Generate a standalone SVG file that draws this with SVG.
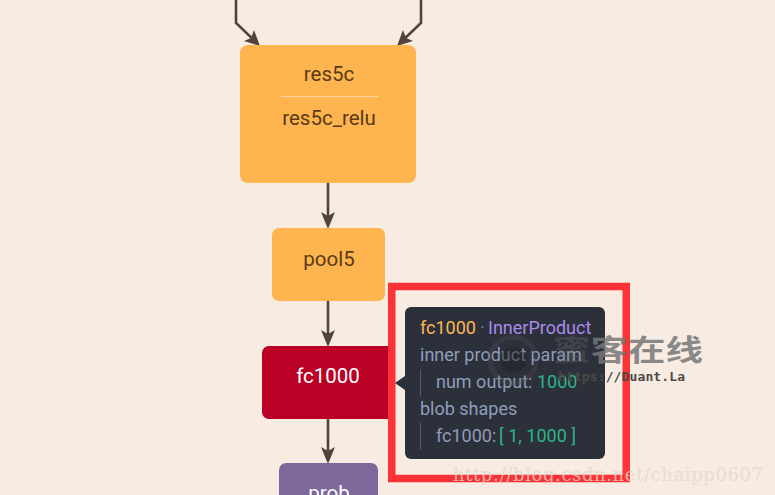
<svg xmlns="http://www.w3.org/2000/svg" width="775" height="495" viewBox="0 0 775 495">
<style>
.n{font-family:Roboto,"Liberation Sans",sans-serif;font-size:20.500px;text-anchor:middle;fill:#5a3a16}
.t{font-family:Roboto,"Liberation Sans",sans-serif;font-size:18px}
.g{fill:#8f9db8}.v{fill:#2bb58a}
.e{fill:none;stroke:#50443c;stroke-width:2.600}
.h{fill:#50443c}
</style>
<rect width="775" height="495" fill="#f7ebe2"/>
<g id="connectors">
<path class="e" d="M236 0V23L256 42"/>
<path class="h" d="M260 46L244 41L251 38L254 30Z"/>
<path class="e" d="M421 0V23L401 42"/>
<path class="h" d="M397 46L413 41L406 38L403 30Z"/>
<path class="e" d="M328 183V225"/>
<path class="h" d="M328 229L321 212L328 216L335 212Z"/>
<path class="e" d="M328 300V343"/>
<path class="h" d="M328 347L321 330L328 334L335 330Z"/>
<path class="e" d="M328 418V460"/>
<path class="h" d="M328 464L321 447L328 451L335 447Z"/>
</g>
<g id="res5c">
<rect x="240" y="45" width="176" height="138" rx="8" fill="#ffb54f"/>
<text class="n" x="329" y="81">res5c</text>
<path d="M281 96.500H378" stroke="#ffd79c" stroke-width="1"/>
<text class="n" x="329" y="125">res5c_relu</text>
</g>
<g id="pool5">
<rect x="272" y="228" width="113" height="73" rx="7" fill="#ffb54f"/>
<text class="n" x="329" y="266">pool5</text>
</g>
<g id="fc1000">
<rect x="262" y="346" width="133" height="73" rx="7" fill="#bb0026"/>
<text class="n" x="328" y="383" style="fill:#fff">fc1000</text>
</g>
<g id="prob">
<rect x="279" y="463" width="99" height="60" rx="7" fill="#7d679b"/>
<text class="n" x="329" y="500" style="fill:#fff">prob</text>
</g>
<rect x="391.750" y="286.500" width="234.500" height="192" fill="none" stroke="#fb3336" stroke-width="7.500"/>
<g id="tooltip">
<path d="M395 383L405 376V390Z" fill="#2c303b"/>
<rect x="405" y="307" width="200" height="152" rx="6" fill="#2c303b"/>
<text class="t" x="420" y="334"><tspan fill="#ffb54f">fc1000</tspan><tspan fill="#6d7687" x="480">·</tspan><tspan fill="#a78bea" x="488">InnerProduct</tspan></text>
<text class="t g" x="420" y="361">inner product param</text>
<path d="M420.500 369V396M420.500 423V450" stroke="#555b68" stroke-width="1"/>
<text class="t g" x="436" y="388">num output: <tspan class="v">1000</tspan></text>
<text class="t g" x="420" y="415">blob shapes</text>
<text class="t g" x="436" y="442">fc1000: <tspan class="v" x="499">[ 1, 1000 ]</tspan></text>
</g>
<circle cx="513" cy="360" r="23" fill="none" stroke="#555" stroke-width="5" opacity=".28"/>
<circle cx="513" cy="360" r="13" fill="#222" opacity=".45"/>
<text x="553" y="361" font-family="'Noto Sans CJK SC',sans-serif" font-size="29" font-weight="700" fill="#777" textLength="150" lengthAdjust="spacingAndGlyphs"><tspan fill-opacity=".3">蜜</tspan><tspan fill-opacity=".85">客在线</tspan></text>
<text x="558" y="381" font-family="'DejaVu Sans Mono','Liberation Mono',monospace" font-size="13" font-weight="700" fill="#4a4a48" textLength="127">https://Duant.La</text>
<text x="453" y="481" font-family="'DejaVu Serif','Liberation Serif',serif" font-size="18" fill="#e2d8cf" opacity=".75" textLength="310">http://blog.csdn.net/chaipp0607</text>
</svg>
